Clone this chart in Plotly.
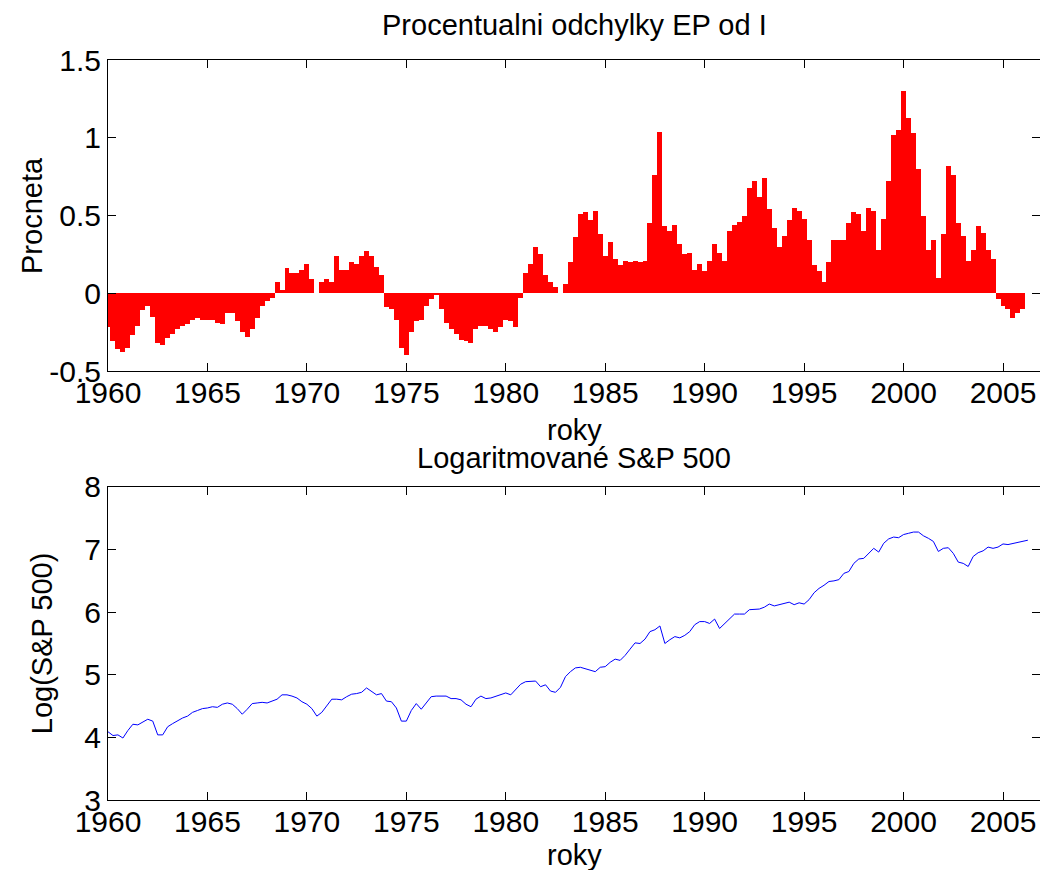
import plotly.graph_objects as go
from plotly.subplots import make_subplots

# quarterly samples, 1960Q1 .. 2006Q1
start_year = 1960
ep_dev = [
    -0.22, -0.31, -0.36, -0.38, -0.35, -0.27, -0.21, -0.11,   # 1960-61
    -0.08, -0.15, -0.32, -0.33, -0.29, -0.26, -0.23, -0.21,   # 1962-63
    -0.20, -0.17, -0.16, -0.17, -0.17, -0.17, -0.19, -0.20,   # 1964-65
    -0.13, -0.13, -0.18, -0.25, -0.28, -0.23, -0.16, -0.08,   # 1966-67
    -0.05, -0.03, 0.07, 0.02, 0.16, 0.13, 0.13, 0.15,         # 1968-69
    0.19, 0.09, 0.00, 0.07, 0.09, 0.07, 0.24, 0.15,           # 1970-71
    0.15, 0.20, 0.19, 0.24, 0.27, 0.24, 0.17, 0.12,           # 1972-73
    -0.09, -0.10, -0.17, -0.35, -0.40, -0.25, -0.18, -0.17,   # 1974-75
    -0.08, -0.04, -0.01, -0.10, -0.19, -0.23, -0.26, -0.30,   # 1976-77
    -0.31, -0.32, -0.23, -0.21, -0.21, -0.23, -0.25, -0.22,   # 1978-79
    -0.17, -0.18, -0.22, -0.03, 0.13, 0.19, 0.30, 0.25,       # 1980-81
    0.12, 0.07, 0.04, 0.00, 0.06, 0.20, 0.36, 0.51,           # 1982-83
    0.52, 0.47, 0.53, 0.38, 0.24, 0.33, 0.22, 0.18,           # 1984-85
    0.21, 0.20, 0.21, 0.20, 0.21, 0.45, 0.76, 1.04,           # 1986-87
    0.43, 0.40, 0.44, 0.32, 0.25, 0.26, 0.15, 0.19,           # 1988-89
    0.14, 0.21, 0.32, 0.26, 0.21, 0.40, 0.44, 0.46,           # 1990-91
    0.50, 0.68, 0.72, 0.62, 0.74, 0.54, 0.42, 0.30,           # 1992-93
    0.37, 0.47, 0.55, 0.53, 0.48, 0.34, 0.18, 0.14,           # 1994-95
    0.07, 0.20, 0.34, 0.34, 0.34, 0.45, 0.52, 0.51,           # 1996-97
    0.40, 0.55, 0.53, 0.28, 0.48, 0.72, 1.02, 1.05,           # 1998-99
    1.30, 1.13, 1.03, 0.80, 0.50, 0.28, 0.34, 0.10,           # 2000-01
    0.38, 0.82, 0.76, 0.45, 0.37, 0.21, 0.28, 0.43,           # 2002-03
    0.39, 0.28, 0.22, -0.04, -0.08, -0.10, -0.16, -0.13,      # 2004-05
    -0.10,                                                    # 2006
]

log_sp500 = [
    4.09, 4.03, 4.04, 3.99, 4.11, 4.21, 4.20, 4.24,   # 1960-61
    4.29, 4.26, 4.04, 4.04, 4.17, 4.22, 4.27, 4.31,   # 1962-63
    4.34, 4.40, 4.43, 4.46, 4.47, 4.49, 4.48, 4.53,   # 1964-65
    4.55, 4.53, 4.46, 4.37, 4.45, 4.54, 4.55, 4.56,   # 1966-67
    4.55, 4.58, 4.61, 4.68, 4.68, 4.66, 4.63, 4.57,   # 1968-69
    4.53, 4.46, 4.34, 4.40, 4.50, 4.61, 4.61, 4.60,   # 1970-71
    4.65, 4.69, 4.70, 4.72, 4.79, 4.73, 4.68, 4.70,   # 1972-73
    4.58, 4.57, 4.47, 4.26, 4.26, 4.43, 4.54, 4.45,   # 1974-75
    4.55, 4.65, 4.66, 4.66, 4.66, 4.62, 4.62, 4.60,   # 1976-77
    4.53, 4.49, 4.61, 4.66, 4.62, 4.63, 4.66, 4.68,   # 1978-79
    4.71, 4.68, 4.77, 4.85, 4.89, 4.89, 4.90, 4.81,   # 1980-81
    4.84, 4.74, 4.72, 4.80, 4.97, 5.05, 5.11, 5.12,   # 1982-83
    5.10, 5.08, 5.05, 5.12, 5.13, 5.20, 5.25, 5.23,   # 1984-85
    5.31, 5.41, 5.51, 5.50, 5.57, 5.69, 5.72, 5.78,   # 1986-87
    5.50, 5.56, 5.61, 5.59, 5.63, 5.69, 5.80, 5.85,   # 1988-89
    5.85, 5.82, 5.89, 5.74, 5.82, 5.90, 5.97, 5.97,   # 1990-91
    5.97, 6.04, 6.04, 6.05, 6.08, 6.13, 6.10, 6.12,   # 1992-93
    6.15, 6.16, 6.12, 6.15, 6.13, 6.20, 6.31, 6.38,   # 1994-95
    6.43, 6.49, 6.50, 6.52, 6.62, 6.65, 6.78, 6.85,   # 1996-97
    6.86, 6.94, 7.02, 6.96, 7.10, 7.17, 7.20, 7.19,   # 1998-99
    7.24, 7.26, 7.28, 7.28, 7.22, 7.18, 7.13, 6.97,   # 2000-01
    7.02, 7.03, 6.94, 6.80, 6.78, 6.73, 6.89, 6.95,   # 2002-03
    6.98, 7.04, 7.02, 7.04, 7.09, 7.08, 7.10, 7.11,   # 2004-05
    7.13, 7.15,                                       # 2006
]

year_ticks = [1960, 1965, 1970, 1975, 1980, 1985, 1990, 1995, 2000, 2005]
ep_ticks = [-0.5, 0, 0.5, 1, 1.5]
ep_ticktext = ["-0.5", "0", "0.5", "1", "1.5"]
sp_ticks = [3, 4, 5, 6, 7, 8]

x_ep = [start_year + i / 4 for i in range(len(ep_dev))]
x_sp = [start_year + i / 4 for i in range(len(log_sp500))]

FONT = "Liberation Sans, Arial, sans-serif"
FS = 29

fig = make_subplots(rows=2, cols=1, vertical_spacing=0.1567)

fig.add_trace(go.Bar(x=x_ep, y=ep_dev, width=0.25,
                     marker=dict(color="#ff0000", line=dict(width=0)),
                     showlegend=False), row=1, col=1)
fig.add_trace(go.Scatter(x=x_sp, y=log_sp500, mode="lines",
                         line=dict(color="#0000ff", width=1),
                         showlegend=False), row=2, col=1)

axis_common = dict(showline=True, linecolor="black", linewidth=1, mirror="ticks",
                   ticks="inside", ticklen=8, tickcolor="black",
                   showgrid=False, zeroline=False, automargin=False,
                   tickfont=dict(family=FONT, size=30, color="black"))

for r in (1, 2):
    fig.update_xaxes(range=[1960, 2006.86], tickvals=year_ticks, row=r, col=1,
                     ticklabelstandoff=-5, **axis_common)
fig.update_yaxes(range=[-0.5, 1.5], tickvals=ep_ticks, ticktext=ep_ticktext,
                 row=1, col=1, **axis_common)
fig.update_yaxes(range=[3, 8], tickvals=sp_ticks, row=2, col=1, **axis_common)

fig.update_layout(
    width=1040, height=870,
    margin=dict(l=108, r=0, t=60, b=70),
    plot_bgcolor="white", paper_bgcolor="white",
    bargap=0,
    font=dict(family=FONT, size=FS, color="black"),
    yaxis=dict(domain=[0.5797, 1.0]),
    yaxis2=dict(domain=[0.0, 0.4230]),
)

labels = [
    ("Procentualni odchylky EP od I", 0.5, 1.0473, 0),
    ("roky", 0.5, 0.50, 0),
    ("Logaritmované S&P 500", 0.5, 0.4622, 0),
    ("roky", 0.5, -0.0743, 0),
    ("Procneta", -0.081, 0.7899, -90),
    ("Log(S&P 500)", -0.07, 0.2115, -90),
]
for text, ax, ay, rot in labels:
    fig.add_annotation(text=text, x=ax, y=ay, xref="paper", yref="paper",
                       xanchor="center", yanchor="middle", textangle=rot,
                       showarrow=False, font=dict(family=FONT, size=FS, color="black"))

fig.write_html("out.html", config={"displayModeBar": False},
               post_script="document.body.style.margin='0px';")
